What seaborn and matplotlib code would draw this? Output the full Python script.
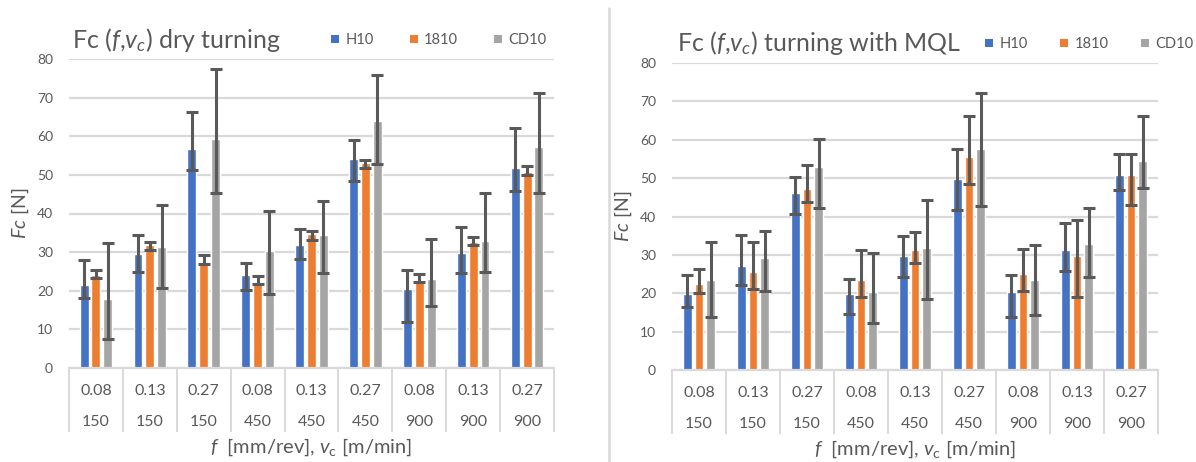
import numpy as np
import pandas as pd
import matplotlib
matplotlib.use("Agg")
import matplotlib.pyplot as plt
import matplotlib.transforms as mtransforms
from matplotlib.lines import Line2D
import seaborn as sns

# ---------------- data ----------------
feeds = ["0.08", "0.13", "0.27", "0.08", "0.13", "0.27", "0.08", "0.13", "0.27"]
speeds = ["150", "150", "150", "450", "450", "450", "900", "900", "900"]
tools = ["H10", "1810", "CD10"]

dry_H10 = [21.5, 29.4, 56.6, 24.1, 31.9, 54.0, 20.4, 29.9, 51.9]
dry_H10_hi = [28.0, 34.5, 66.4, 27.2, 35.9, 59.0, 25.5, 36.5, 62.2]
dry_H10_lo = [18.2, 24.9, 51.3, 20.2, 28.1, 48.5, 11.9, 24.5, 45.9]
dry_1810 = [24.1, 31.9, 27.2, 22.0, 34.7, 53.2, 22.9, 32.7, 50.7]
dry_1810_hi = [25.5, 32.7, 29.2, 23.9, 35.4, 53.9, 24.4, 33.9, 52.2]
dry_1810_lo = [23.3, 30.6, 26.8, 21.8, 33.2, 51.7, 22.3, 31.8, 50.0]
dry_CD10 = [17.8, 31.4, 59.2, 30.4, 34.5, 64.0, 23.1, 33.0, 57.1]
dry_CD10_hi = [32.4, 42.3, 77.3, 40.6, 43.3, 75.8, 33.3, 45.4, 71.1]
dry_CD10_lo = [7.6, 20.7, 45.3, 19.1, 24.5, 52.7, 16.0, 24.9, 45.3]

mql_H10 = [19.7, 27.1, 46.1, 19.7, 29.7, 49.7, 20.2, 31.3, 50.8]
mql_H10_hi = [24.8, 35.2, 50.2, 23.7, 34.8, 57.5, 24.8, 38.4, 56.3]
mql_H10_lo = [16.3, 22.2, 40.7, 14.7, 24.3, 41.6, 13.7, 25.8, 46.9]
mql_1810 = [22.3, 25.6, 47.1, 23.5, 31.3, 55.6, 25.0, 29.7, 50.8]
mql_1810_hi = [26.4, 33.3, 53.3, 31.2, 35.9, 66.3, 31.6, 39.0, 56.3]
mql_1810_lo = [20.0, 21.1, 43.7, 19.0, 28.0, 48.5, 20.6, 19.0, 43.1]
mql_CD10 = [23.5, 29.1, 53.0, 20.2, 31.8, 57.7, 23.5, 32.9, 54.4]
mql_CD10_hi = [33.3, 36.3, 60.1, 30.5, 44.3, 72.2, 32.7, 42.3, 66.3]
mql_CD10_lo = [13.7, 20.6, 42.2, 12.2, 18.5, 42.8, 14.3, 24.2, 47.5]

yticks = [0, 10, 20, 30, 40, 50, 60, 70, 80]

# ---------------- style ----------------
sns.set_theme(style="white")
plt.rcParams["font.family"] = ["Lato", "DejaVu Sans"]
plt.rcParams["mathtext.fontset"] = "custom"
plt.rcParams["mathtext.rm"] = "Lato"
plt.rcParams["mathtext.it"] = "Lato:italic"
plt.rcParams["mathtext.bf"] = "Lato:bold"

TXT = "#595959"
GRID = "#D9D9D9"
palette = {"H10": "#4472C4", "1810": "#ED7D31", "CD10": "#A5A5A5"}

W, H = 1196, 462
fig = plt.figure(figsize=(W / 100, H / 100), dpi=100)


def px_ax(x0, x1, y_top, y_bot):
    return [x0 / W, (H - y_bot) / H, (x1 - x0) / W, (y_bot - y_top) / H]


def make_df(vals):
    rows = []
    for t, v in zip(tools, vals):
        for i, val in enumerate(v):
            rows.append({"cat": f"{feeds[i]}|{speeds[i]}|{i}", "tool": t, "Fc": val})
    return pd.DataFrame(rows)


def draw_panel(rect, vals, his, los, title, title_xy, legend_xy, colsp, ylab_x, xlab_y):
    ax = fig.add_axes(rect)
    df = make_df(vals)
    sns.barplot(data=df, x="cat", y="Fc", hue="tool", hue_order=tools,
                palette=palette, width=0.66, gap=0.25, errorbar=None,
                saturation=1, legend=False, ax=ax)
    for cont, v, hi, lo in zip(ax.containers, vals, his, los):
        xs = [p.get_x() + p.get_width() / 2 for p in cont]
        v = np.array(v); hi = np.array(hi); lo = np.array(lo)
        ax.errorbar(xs, v, yerr=[v - lo, hi - v], fmt="none", ecolor=TXT,
                    elinewidth=2.2, capsize=4.5, capthick=2.2, zorder=5)
    ax.set_xlim(-0.5, 8.5)
    ax.set_ylim(0, 80)
    ax.set_yticks(yticks)
    ax.yaxis.grid(True, color=GRID, linewidth=1.6)
    ax.set_axisbelow(True)
    for s in ["left", "right", "top"]:
        ax.spines[s].set_visible(False)
    ax.spines["bottom"].set_color(GRID)
    ax.spines["bottom"].set_linewidth(1.6)
    ax.tick_params(axis="y", length=0, labelsize=10, labelcolor=TXT, pad=11.5)
    ax.set_xticks(range(9))
    ax.set_xticklabels([""] * 9)
    ax.tick_params(axis="x", which="major", length=0)
    ax.set_xticks(np.arange(-0.5, 9, 1), minor=True)
    ax.tick_params(axis="x", which="minor", bottom=True, length=46, width=1.4,
                   color=GRID, direction="out")
    ax.set_xlabel("")
    ax.set_ylabel("")
    t1 = mtransforms.offset_copy(ax.get_xaxis_transform(), fig, y=-23, units="dots")
    t2 = mtransforms.offset_copy(ax.get_xaxis_transform(), fig, y=-54, units="dots")
    for i in range(9):
        ax.text(i, 0, feeds[i], transform=t1, ha="center", va="center",
                fontsize=11.5, color=TXT)
        ax.text(i, 0, speeds[i], transform=t2, ha="center", va="center",
                fontsize=11.5, color=TXT)
    # y label
    yc = rect[1] + rect[3] / 2
    fig.text(ylab_x / W, yc, r"$\mathit{Fc}$ [N]", rotation=90,
             ha="center", va="center", fontsize=14, color=TXT)
    # x label
    xc = rect[0] + rect[2] / 2
    fig.text(xc, 1 - xlab_y / H, r"$\mathit{f}$  [mm/rev], $\mathit{v}_\mathrm{c}$ [m/min]",
             ha="center", va="center", fontsize=14.5, color=TXT)
    # title
    fig.text(title_xy[0] / W, 1 - title_xy[1] / H, title, ha="left", va="center",
             fontsize=18, color=TXT)
    # legend
    handles = [Line2D([], [], marker="s", linestyle="none", markersize=6.2,
                      markerfacecolor=palette[t], markeredgewidth=0) for t in tools]
    fig.legend(handles, tools, loc="center left",
               bbox_to_anchor=(legend_xy[0] / W, 1 - legend_xy[1] / H),
               ncol=3, frameon=False, fontsize=10.5, labelcolor=TXT,
               handlelength=0.6, handletextpad=0.4,
               columnspacing=colsp, borderaxespad=0, borderpad=0)
    return ax


draw_panel(px_ax(69, 554, 59, 368),
           [dry_H10, dry_1810, dry_CD10], [dry_H10_hi, dry_1810_hi, dry_CD10_hi],
           [dry_H10_lo, dry_1810_lo, dry_CD10_lo],
           r"Fc ($\mathit{f}$,$\mathit{v}_{\mathit{c}}$) dry turning",
           (72, 40), (331, 40), 2.45, 20, 447)

draw_panel(px_ax(672, 1158, 63, 370),
           [mql_H10, mql_1810, mql_CD10], [mql_H10_hi, mql_1810_hi, mql_CD10_hi],
           [mql_H10_lo, mql_1810_lo, mql_CD10_lo],
           r"Fc ($\mathit{f}$,$\mathit{v}_{\mathit{c}}$) turning with MQL",
           (677, 43), (985, 44), 2.2, 623, 449)

fig.add_artist(Line2D([609 / W, 609 / W], [0, 1 - 8 / H], color=GRID, linewidth=1.8))

fig.savefig("out.png", dpi=100)
